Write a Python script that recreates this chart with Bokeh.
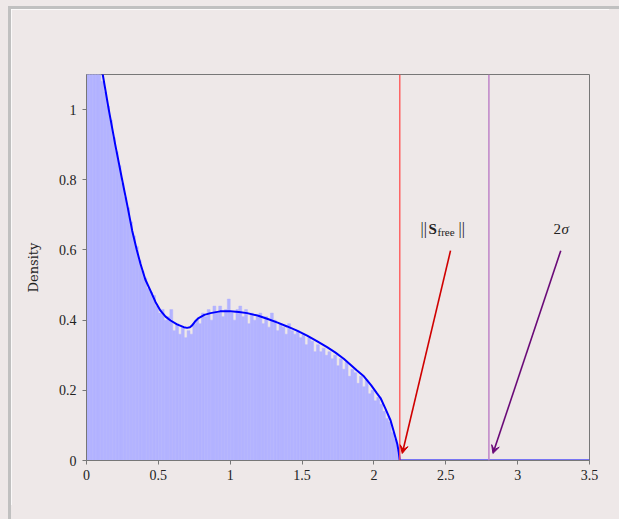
import numpy as np
from bokeh.plotting import figure
from bokeh.models import Range1d, FixedTicker, Span, Label, Arrow, VeeHead, ColumnDataSource
from bokeh.embed import file_html
from bokeh.resources import INLINE

# ---------------- data ----------------
bin_width = 0.02
hist_values = [
    2.40, 1.85, 1.55, 1.38, 1.24, 1.08, 1.05, 1.01, 0.97, 0.92,
    0.88, 0.84, 0.79, 0.75, 0.72, 0.68, 0.64, 0.61, 0.57, 0.54,
    0.52, 0.49, 0.48, 0.47, 0.44, 0.42, 0.43, 0.40, 0.41, 0.43,
    0.37, 0.39, 0.36, 0.38, 0.35, 0.37, 0.36, 0.39, 0.40, 0.39,
    0.42, 0.41, 0.43, 0.40, 0.44, 0.42, 0.44, 0.41, 0.43, 0.46,
    0.42, 0.40, 0.43, 0.44, 0.41, 0.43, 0.39, 0.42, 0.40, 0.41,
    0.42, 0.39, 0.41, 0.38, 0.42, 0.40, 0.37, 0.39, 0.38, 0.36,
    0.39, 0.37, 0.36, 0.37, 0.35, 0.36, 0.33, 0.35, 0.34, 0.31,
    0.33, 0.31, 0.32, 0.30, 0.31, 0.29, 0.30, 0.27, 0.29, 0.26,
    0.28, 0.24, 0.26, 0.25, 0.22, 0.24, 0.21, 0.23, 0.19, 0.20,
    0.17, 0.18, 0.16, 0.14, 0.12, 0.11, 0.08, 0.06, 0.03,
]

curve_x = [0.08, 0.113, 0.155, 0.20, 0.248, 0.285, 0.318, 0.35, 0.376, 0.41,
           0.445, 0.48, 0.515, 0.55, 0.585, 0.63, 0.677, 0.70, 0.72, 0.735,
           0.755, 0.78, 0.82, 0.863, 0.93, 1.00, 1.06, 1.118, 1.19, 1.257,
           1.33, 1.396, 1.465, 1.535, 1.60, 1.674, 1.73, 1.79, 1.837, 1.88,
           1.93, 1.98, 2.02, 2.046, 2.08, 2.116, 2.14, 2.162, 2.172, 2.18, 3.5]
curve_y = [1.18, 1.10, 1.00, 0.90, 0.80, 0.725, 0.655, 0.60, 0.56, 0.515,
           0.484, 0.452, 0.427, 0.41, 0.399, 0.388, 0.380, 0.378, 0.380, 0.385,
           0.396, 0.406, 0.415, 0.420, 0.425, 0.425, 0.423, 0.420, 0.413, 0.404,
           0.393, 0.382, 0.370, 0.356, 0.341, 0.323, 0.308, 0.290, 0.273, 0.257,
           0.240, 0.215, 0.192, 0.178, 0.148, 0.114, 0.080, 0.048, 0.025, 0.0, 0.0]

s_free = 2.18
two_sigma = 2.8

x_ticks = [0, 0.5, 1, 1.5, 2, 2.5, 3, 3.5]
x_tick_labels = ["0", "0.5", "1", "1.5", "2", "2.5", "3", "3.5"]
y_ticks = [0, 0.2, 0.4, 0.6, 0.8, 1.0]
y_tick_labels = ["0", "0.2", "0.4", "0.6", "0.8", "1"]

# annotation anchors (data units)
label_y = 0.66
sfree_label_x = 2.505
sigma_label_x = 3.305
arrow_red = dict(x_start=2.533, y_start=0.598, x_end=2.197, y_end=0.020)
arrow_purple = dict(x_start=3.30, y_start=0.598, x_end=2.828, y_end=0.020)

# ---------------- styles ----------------
BG = "#EEE8E8"
FRAME = "#C0C0C0"
FONT = "Liberation Serif"
TXT = "#222222"

n = len(hist_values)
lefts = np.arange(n) * bin_width
rights = lefts + bin_width
hist_src = ColumnDataSource(dict(left=lefts, right=rights, top=hist_values, bottom=[0] * n))

p = figure(output_backend="svg", toolbar_location=None,
           frame_width=503, frame_height=386,
           min_border_left=75, min_border_top=65, min_border_right=20, min_border_bottom=45,
           x_range=Range1d(0, 3.5), y_range=Range1d(0, 1.1))
p.styles = {"margin-left": "8px", "margin-top": "6px",
            "border-top": "3px solid %s" % FRAME, "border-left": "3px solid %s" % FRAME,
            "box-shadow": ("30px 3px 0 0 {bg}, 30px 0 0 0 {fr}, 3px 30px 0 0 {bg}, "
                           "0 30px 0 0 {fr}, 0 0 0 80px {bg}").format(bg=BG, fr=FRAME)}
p.background_fill_color = BG
p.border_fill_color = BG
p.outline_line_color = "#777777"
p.outline_line_width = 1
p.grid.visible = False

p.quad(left="left", right="right", top="top", bottom="bottom", source=hist_src,
       fill_color="#B3B3FF", line_color="#B3B3FF", line_width=0.5)
p.line(curve_x, curve_y, line_color="#0000FF", line_width=2)

p.add_layout(Span(location=s_free, dimension="height", line_color="#FF5050", line_width=1.3))
p.add_layout(Span(location=two_sigma, dimension="height", line_color="#BF84C8", line_width=1.5))

p.add_layout(Arrow(end=VeeHead(size=8, line_color="#D00000", fill_color="#D00000", line_width=1),
                   line_color="#D00000", line_width=1.6, **arrow_red))
p.add_layout(Arrow(end=VeeHead(size=8, line_color="#6A0A78", fill_color="#6A0A78", line_width=1),
                   line_color="#6A0A78", line_width=1.6, **arrow_purple))

common = dict(text_font=FONT, text_color=TXT, text_baseline="alphabetic", text_align="left")
p.add_layout(Label(x=sfree_label_x, y=label_y, x_offset=-26, text="||", text_font_size="16px", **common))
p.add_layout(Label(x=sfree_label_x, y=label_y, x_offset=-18, text="S", text_font_size="15px",
                   text_font_style="bold", **common))
p.add_layout(Label(x=sfree_label_x, y=label_y - 0.009, x_offset=-9, text="free", text_font_size="11px", **common))
p.add_layout(Label(x=sfree_label_x, y=label_y, x_offset=12, text="||", text_font_size="16px", **common))

p.add_layout(Label(x=sigma_label_x, y=label_y, x_offset=-8, text="2", text_font_size="15px", **common))
p.add_layout(Label(x=sigma_label_x, y=label_y, x_offset=0, text="σ", text_font_size="15px",
                   text_font_style="italic", **common))

for ax in (p.xaxis[0], p.yaxis[0]):
    ax.axis_line_color = "#777777"
    ax.major_tick_line_color = "#777777"
    ax.major_tick_in = 0
    ax.major_tick_out = 4
    ax.minor_tick_line_color = None
    ax.major_label_text_font = FONT
    ax.major_label_text_font_size = "14px"
    ax.major_label_text_color = TXT

p.xaxis.ticker = FixedTicker(ticks=x_ticks)
p.xaxis.major_label_overrides = dict(zip(x_ticks, x_tick_labels))
p.xaxis.major_label_standoff = 5
p.yaxis.ticker = FixedTicker(ticks=y_ticks)
p.yaxis.major_label_overrides = dict(zip(y_ticks, y_tick_labels))
p.yaxis.major_label_standoff = 6
p.yaxis.axis_label = "Density"
p.yaxis.axis_label_text_font = "DejaVu Serif"
p.yaxis.axis_label_text_font_size = "13px"
p.yaxis.axis_label_text_font_style = "normal"
p.yaxis.axis_label_text_color = TXT
p.yaxis.axis_label_standoff = 15

html = file_html(p, INLINE)
open("out.html", "w").write(html)
